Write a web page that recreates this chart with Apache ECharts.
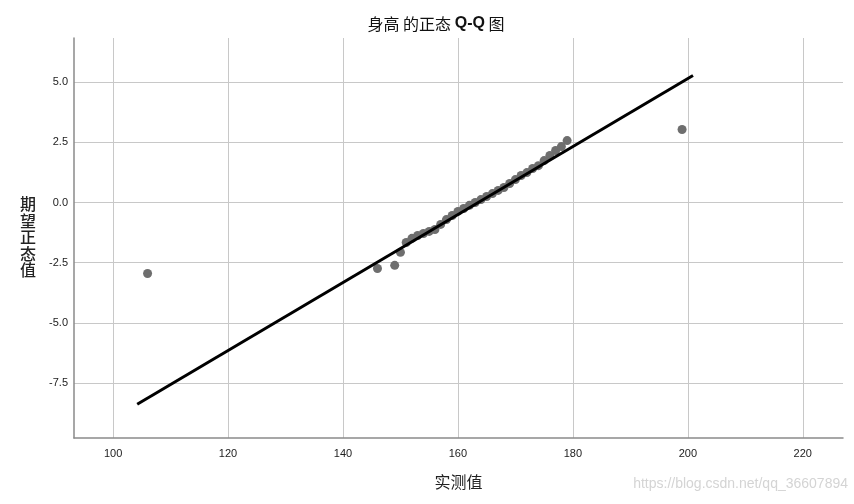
<!DOCTYPE html>
<html><head><meta charset="utf-8">
<script src="https://cdn.jsdelivr.net/npm/echarts@6/dist/echarts.min.js"></script>
<style>html,body{margin:0;padding:0;background:#fff}#c{width:854px;height:504px}</style>
</head><body><div id="c"></div>
<script>
const observed = [106,146,149,150,151,152,153,154,155,156,157,158,159,160,161,162,163,164,165,166,167,168,169,170,171,172,173,174,175,176,177,178,179,199];
const expected = [-2.95,-2.74,-2.61,-2.07,-1.66,-1.49,-1.37,-1.29,-1.20,-1.12,-0.91,-0.71,-0.54,-0.37,-0.25,-0.12,0.00,0.12,0.25,0.37,0.50,0.62,0.79,0.95,1.12,1.24,1.41,1.53,1.74,1.95,2.16,2.32,2.57,3.03];
const lineX = [104.2, 200.9];
const lineY = [-8.38, 5.27];
const xTicks = [100,120,140,160,180,200,220];
const yTicks = [-7.5,-5.0,-2.5,0.0,2.5,5.0];

const font = '"Noto Sans CJK SC","Noto Sans",sans-serif';
const chart = echarts.init(document.getElementById('c'));
chart.setOption({
  animation:false,
  backgroundColor:'#fff',
  title:{text:'{c|身高 的正态 }{b|Q-Q}{c| 图}',left:431,textAlign:'center',top:11,
    textStyle:{rich:{
      c:{fontSize:16,fontWeight:'normal',color:'#111',fontFamily:font},
      b:{fontSize:16,fontWeight:'bold',color:'#111',fontFamily:'"Liberation Sans",sans-serif'}}}},
  grid:{left:74,right:11,top:38,bottom:66},
  xAxis:{type:'value',min:93.2,max:227,
    name:'实测值',nameLocation:'middle',nameGap:36,nameTextStyle:{fontSize:16,color:'#222',fontFamily:font},
    axisLine:{show:true,onZero:false,lineStyle:{color:'#8a8a8a',width:1.5}},
    axisTick:{show:false,customValues:xTicks},
    axisLabel:{customValues:xTicks,color:'#222',fontSize:11,margin:10,fontFamily:'"Liberation Sans",sans-serif'},
    splitLine:{show:true,lineStyle:{color:'#c8c8c8',width:1}}},
  yAxis:{type:'value',min:-9.78,max:6.83,
    axisLine:{show:true,onZero:false,lineStyle:{color:'#8a8a8a',width:1.5}},
    axisTick:{show:false,customValues:yTicks},
    axisLabel:{customValues:yTicks,color:'#222',fontSize:11,margin:6,fontFamily:'"Liberation Sans",sans-serif',formatter:v=>v.toFixed(1)},
    splitLine:{show:true,lineStyle:{color:'#c8c8c8',width:1}}},
  graphic:[
    {type:'text',left:20,top:196,style:{text:'期\n望\n正\n态\n值',font:'500 16px '+font,fill:'#222',lineHeight:16.5}},
    {type:'text',right:6,top:477,style:{text:'https://blog.csdn.net/qq_36607894',font:'14px "Liberation Sans Narrow","Liberation Sans",sans-serif',fill:'#d4d4d4'}}
  ],
  series:[
    {type:'scatter',data:observed.map((x,i)=>[x,expected[i]]),symbolSize:9,itemStyle:{color:'#6e6e6e',opacity:1}},
    {type:'line',data:lineX.map((x,i)=>[x,lineY[i]]),showSymbol:false,lineStyle:{color:'#000',width:3},z:3}
  ]
});
</script></body></html>
